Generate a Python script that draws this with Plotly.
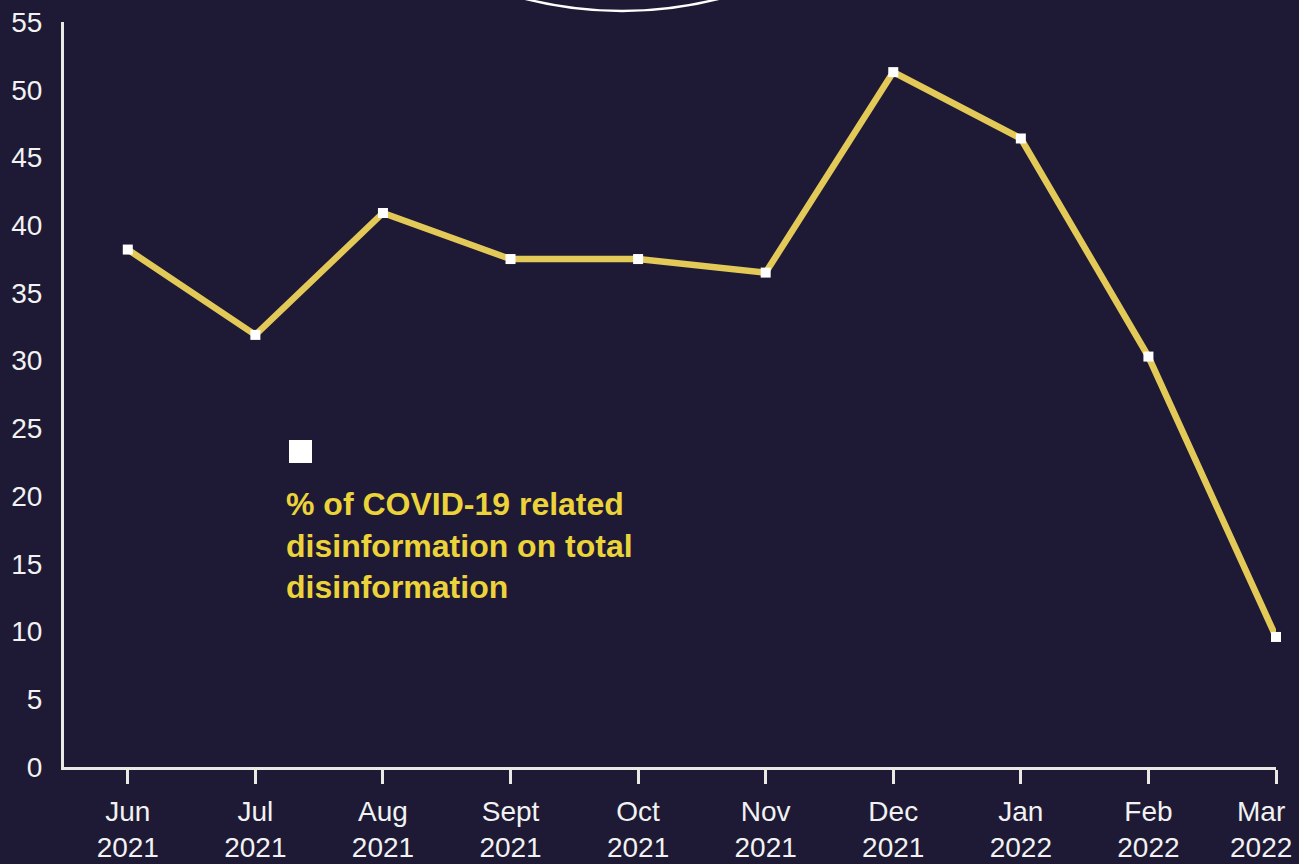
import plotly.graph_objects as go

months = ["Jun<br>2021", "Jul<br>2021", "Aug<br>2021", "Sept<br>2021", "Oct<br>2021",
          "Nov<br>2021", "Dec<br>2021", "Jan<br>2022", "Feb<br>2022", "Mar<br>2022"]
covid_share = [38.2, 31.9, 40.9, 37.5, 37.5, 36.5, 51.3, 46.4, 30.3, 9.6]
y_ticks = [0, 5, 10, 15, 20, 25, 30, 35, 40, 45, 50, 55]
legend_label = "% of COVID-19 related<br>disinformation on total<br>disinformation"

BG = "#1e1a35"
AXIS = "#ebe9e6"
LINE = "#e3c957"
TEXT_Y = "#ecd33a"
TICK_TXT = "#f2f2f2"
FONT = "Liberation Sans, Arial, sans-serif"

W, H = 1299, 864
L, R, T, B = 64, 23, 22, 97
pw, ph = W - L - R, H - T - B

def px(x):
    return (x - L) / pw

def py(y):
    return (H - B - y) / ph

# last label is placed separately, nudged left as in the reference so it stays on the page
tick_text = months[:-1] + [""]

fig = go.Figure()
fig.add_trace(go.Scatter(
    x=list(range(len(months))), y=covid_share, mode="lines+markers",
    line=dict(color=LINE, width=6.5),
    marker=dict(symbol="square", size=10, color="white", line=dict(width=0)),
    showlegend=False, hoverinfo="skip", cliponaxis=False,
))

fig.update_layout(
    width=W, height=H,
    margin=dict(l=L, r=R, t=T, b=B, autoexpand=False),
    paper_bgcolor=BG, plot_bgcolor=BG,
    font=dict(family=FONT, color=TICK_TXT, size=28),
    xaxis=dict(
        range=[-0.5, 9.0], tickmode="array",
        tickvals=list(range(len(months))), ticktext=tick_text,
        showgrid=False, zeroline=False, showline=True, linecolor=AXIS, linewidth=3,
        ticks="outside", ticklen=14, tickwidth=3, tickcolor=AXIS,
        ticklabelstandoff=3, ticklabeloverflow="allow", automargin=False,
        tickfont=dict(size=28, color=TICK_TXT),
    ),
    yaxis=dict(
        range=[0, 55], tickmode="array", tickvals=y_ticks,
        showgrid=False, zeroline=False, showline=True, linecolor=AXIS, linewidth=3,
        ticks="", ticklabelstandoff=13, automargin=False,
        tickfont=dict(size=28, color=TICK_TXT),
    ),
    showlegend=False,
)

fig.add_annotation(xref="paper", yref="paper", x=px(1261), y=py(829),
                   xanchor="center", yanchor="middle", align="center", showarrow=False,
                   text=months[-1], font=dict(size=28, color=TICK_TXT, family=FONT))

# legend marker and text
fig.add_shape(type="rect", xref="paper", yref="paper",
              x0=px(289), x1=px(312), y0=py(463), y1=py(440),
              fillcolor="white", line=dict(width=0))
fig.add_annotation(xref="paper", yref="paper", x=px(284), y=py(484),
                   xanchor="left", yanchor="top", align="left", showarrow=False,
                   text="<b>" + legend_label + "</b>",
                   font=dict(size=32, color=TEXT_Y, family=FONT))

# decorative circle at top
fig.add_shape(type="circle", xref="paper", yref="paper",
              x0=px(232), x1=px(1012), y0=py(11), y1=py(-769),
              line=dict(color="white", width=2.5), fillcolor="rgba(0,0,0,0)")

fig.write_html(
    "out.html",
    config={"displayModeBar": False},
    post_script="document.body.style.margin='0';document.body.style.background='%s';" % BG,
)
